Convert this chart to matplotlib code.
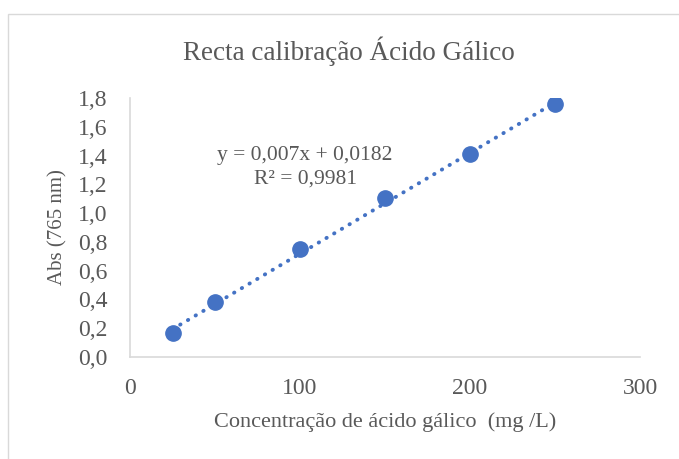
import matplotlib.pyplot as plt
from matplotlib.ticker import FuncFormatter

# dados
conc = [25, 50, 100, 150, 200, 250]
absorb = [0.165, 0.38, 0.75, 1.105, 1.41, 1.758]
slope = 0.007
intercept = 0.0182
r2 = 0.9981

x_ticks = [0, 100, 200, 300]
y_ticks = [0, 0.2, 0.4, 0.6, 0.8, 1.0, 1.2, 1.4, 1.6, 1.8]

grey = '#595959'
blue = '#4472C4'
plt.rcParams['font.family'] = ['Liberation Serif', 'DejaVu Serif']

fig = plt.figure(figsize=(6.79, 4.59), dpi=100)
# moldura do gráfico
fig.add_artist(plt.Rectangle((8 / 679, -0.05), 1.2, 1 - 14 / 459 + 0.05,
                             transform=fig.transFigure, fill=False,
                             edgecolor='#d9d9d9', linewidth=1))
ax = fig.add_axes([130 / 679, 1 - 357 / 459, 510 / 679, 259 / 459])

# linha de tendência
xt = [conc[0], conc[-1]]
yt = [slope * v + intercept for v in xt]
ax.plot(xt, yt, linestyle=(0, (0.1, 2.2)), color=blue, linewidth=2.8,
        dash_capstyle='round', zorder=2)
ax.plot(conc, absorb, 'o', color=blue, markersize=11, zorder=3)

ax.set_xlim(0, 300)
ax.set_ylim(0, 1.8)
ax.set_xticks(x_ticks)
ax.set_yticks(y_ticks)
ax.yaxis.set_major_formatter(FuncFormatter(lambda v, p: f"{v:.1f}".replace('.', ',')))
ax.tick_params(length=0, labelsize=17, labelcolor=grey)
ax.tick_params(axis='x', pad=15)
ax.tick_params(axis='y', pad=16)
for s in ['top', 'right']:
    ax.spines[s].set_visible(False)
for s in ['left', 'bottom']:
    ax.spines[s].set_color('#d9d9d9')
    ax.spines[s].set_linewidth(1.2)

fig.text(349 / 679, 1 - 51 / 459, "Recta calibração Ácido Gálico", fontsize=19.5,
         color=grey, ha='center', va='center')
ax.set_xlabel("Concentração de ácido gálico  (mg /L)", fontsize=16, color=grey, labelpad=10)
ax.set_ylabel("Abs (765 nm)", fontsize=15, color=grey, labelpad=8)

eq = "y = 0,007x + 0,0182\nR² = " + f"{r2}".replace('.', ',')
ax.text(103, 1.32, eq, ha='center', va='center',
        fontsize=15.5, color=grey, linespacing=1.3)

fig.savefig("out.png", dpi=100)
